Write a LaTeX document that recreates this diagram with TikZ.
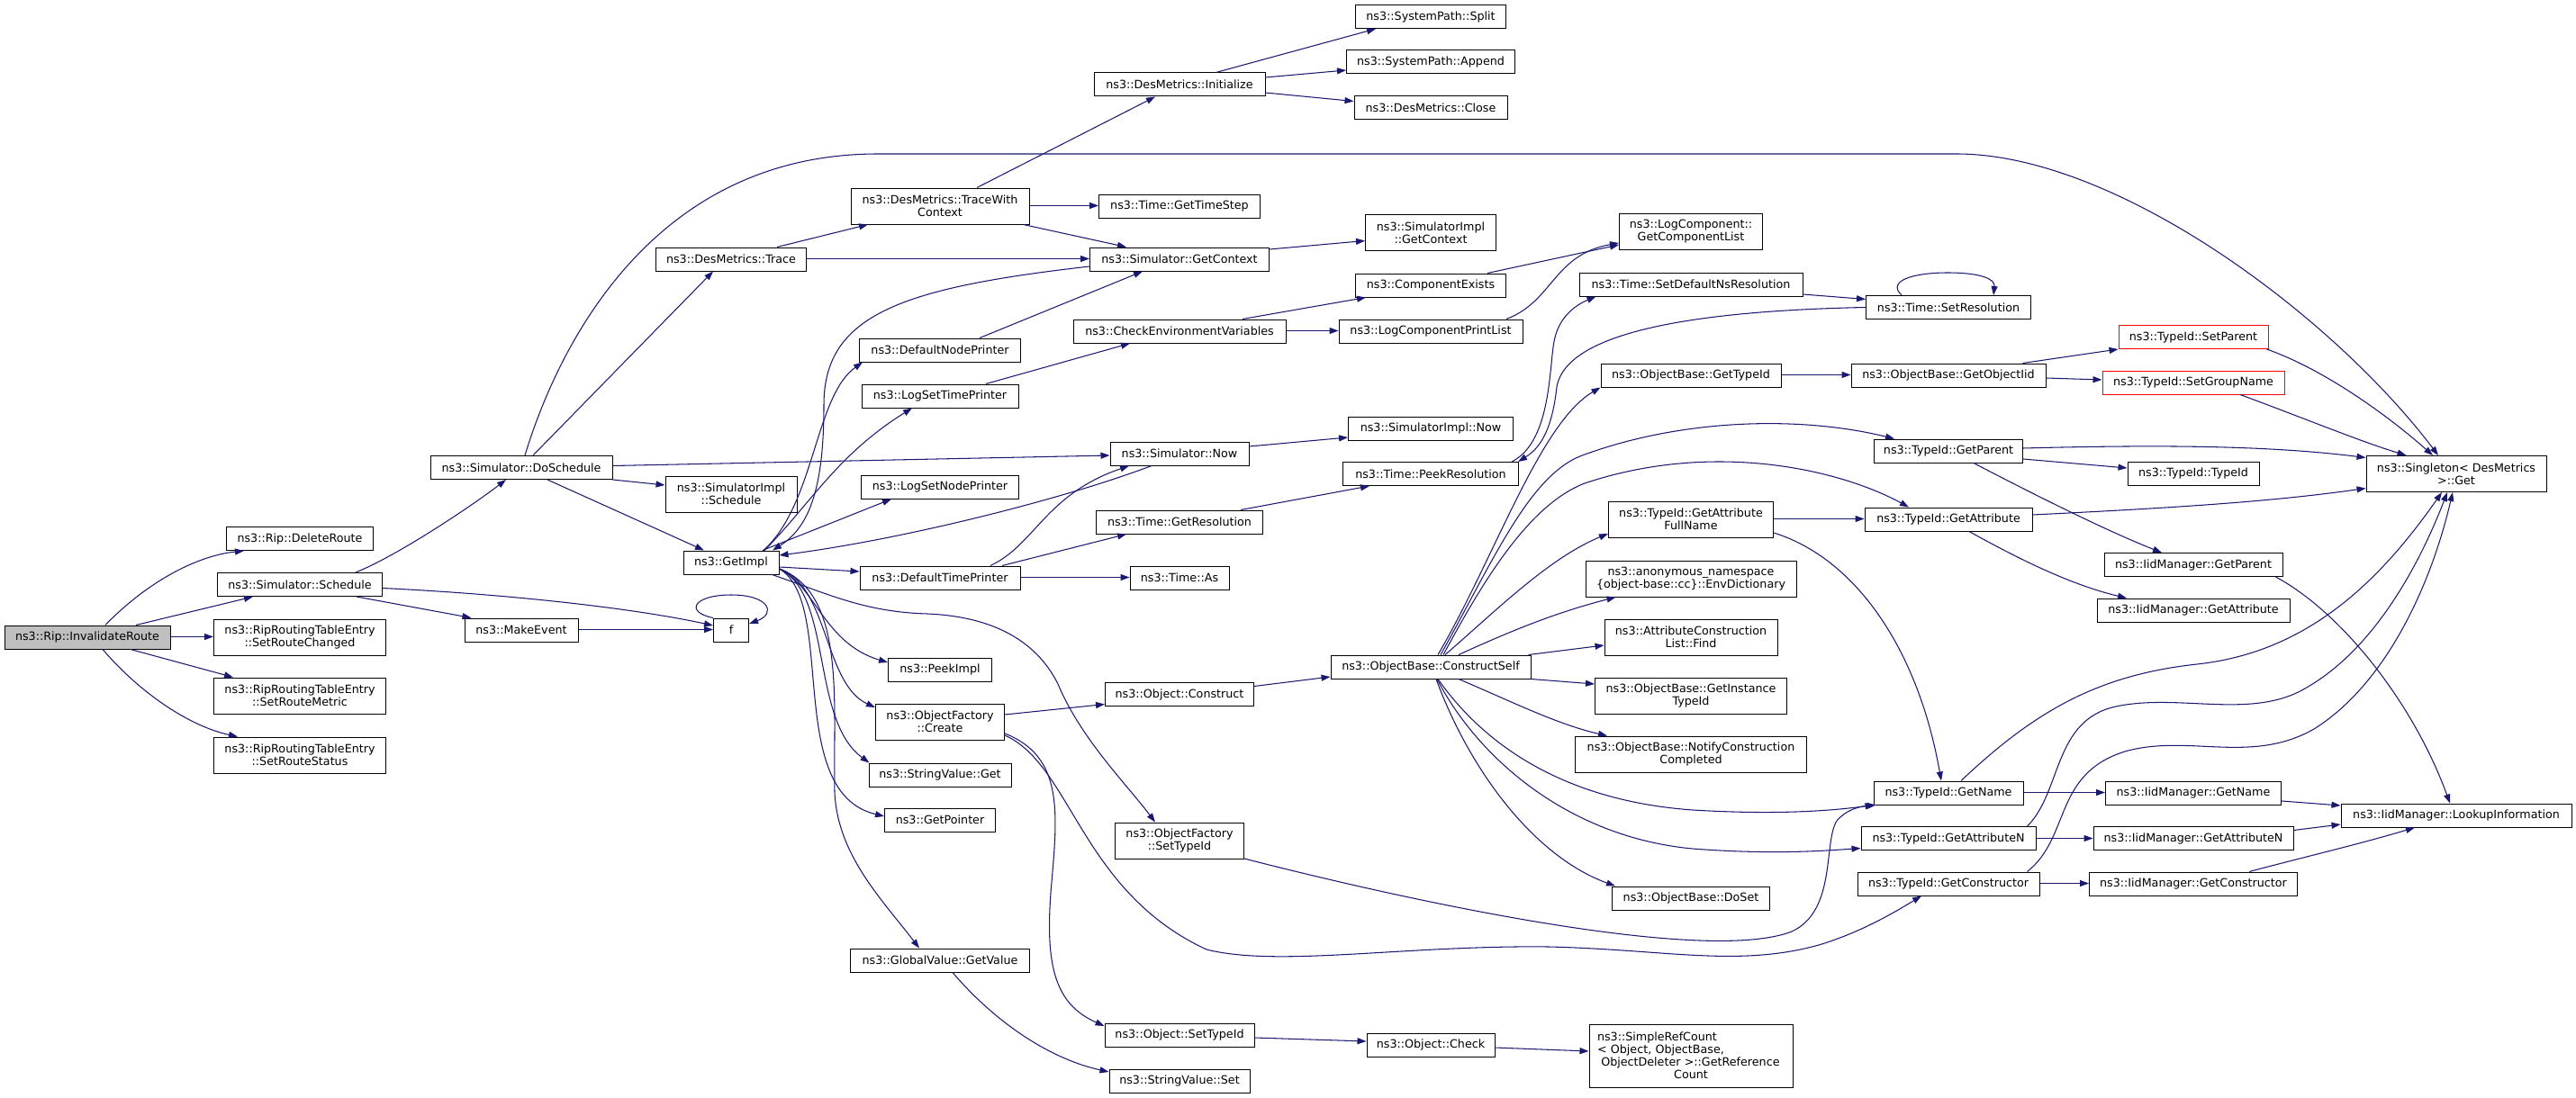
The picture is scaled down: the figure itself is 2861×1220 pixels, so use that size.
\documentclass[tikz,border=0pt]{standalone}
\usepackage{fontspec}
\setmainfont{DejaVu Sans}
\usetikzlibrary{arrows.meta}
\definecolor{edgecol}{HTML}{191970}
\definecolor{rootgray}{HTML}{BFBFBF}
\definecolor{boxred}{HTML}{FF0000}
\tikzset{
 box/.style={draw=black, line width=1pt, fill=white, inner sep=0pt, minimum height=26pt, align=center, font=\fontsize{12.7}{14}\selectfont},
 tall/.style={box, minimum height=40pt},
 rootbox/.style={box, fill=rootgray},
 redbox/.style={box, draw=boxred},
 edge/.style={draw=edgecol, line width=1.05pt, -{Triangle[length=10pt,width=7pt]}},
}
\begin{document}
\begin{tikzpicture}[x=1pt,y=-1pt]
\useasboundingbox (0,0) rectangle (2861,1220);
% ---------- nodes ----------
\node[rootbox, minimum width=184] (root) at (97,708) {ns3::Rip::InvalidateRoute};
\node[box, minimum width=163] (del) at (333,598.5) {ns3::Rip::DeleteRoute};
\node[box, minimum width=183] (sched) at (333,649.5) {ns3::Simulator::Schedule};
\node[tall, minimum width=191] (chg) at (333,708) {ns3::RipRoutingTableEntry\\::SetRouteChanged};
\node[tall, minimum width=191] (met) at (333,773) {ns3::RipRoutingTableEntry\\::SetRouteMetric};
\node[tall, minimum width=191] (sta) at (333,839) {ns3::RipRoutingTableEntry\\::SetRouteStatus};
\node[box, minimum width=202] (dosch) at (579,519.5) {ns3::Simulator::DoSchedule};
\node[box, minimum width=126] (mkev) at (579,700) {ns3::MakeEvent};
\node[box, minimum width=39] (f) at (812,700) {f};
\node[box, minimum width=167] (trace) at (812,288) {ns3::DesMetrics::Trace};
\node[tall, minimum width=146] (simsched) at (812,549) {ns3::SimulatorImpl\\::Schedule};
\node[box, minimum width=106] (getimpl) at (812,625) {ns3::GetImpl};
\node[tall, minimum width=198] (twc) at (1044,229) {ns3::DesMetrics::TraceWith\\Context};
\node[box, minimum width=179] (dnp) at (1044,389) {ns3::DefaultNodePrinter};
\node[box, minimum width=174] (lstp) at (1044,440) {ns3::LogSetTimePrinter};
\node[box, minimum width=175] (lsnp) at (1044,541) {ns3::LogSetNodePrinter};
\node[box, minimum width=178] (dtp) at (1044,642) {ns3::DefaultTimePrinter};
\node[box, minimum width=115] (peek) at (1044,744) {ns3::PeekImpl};
\node[tall, minimum width=143] (ofcreate) at (1044,802) {ns3::ObjectFactory\\::Create};
\node[box, minimum width=158] (svget) at (1044,861) {ns3::StringValue::Get};
\node[box, minimum width=123] (getptr) at (1044,911) {ns3::GetPointer};
\node[box, minimum width=199] (gvget) at (1044,1067) {ns3::GlobalValue::GetValue};
\node[box, minimum width=190] (init) at (1310,94) {ns3::DesMetrics::Initialize};
\node[box, minimum width=179] (gts) at (1310,229) {ns3::Time::GetTimeStep};
\node[box, minimum width=199] (getctx) at (1310,288) {ns3::Simulator::GetContext};
\node[box, minimum width=236] (cev) at (1310,368) {ns3::CheckEnvironmentVariables};
\node[box, minimum width=154] (now) at (1310,504) {ns3::Simulator::Now};
\node[box, minimum width=185] (getres) at (1310,580) {ns3::Time::GetResolution};
\node[box, minimum width=110] (as) at (1310,642) {ns3::Time::As};
\node[box, minimum width=165] (construct) at (1310,771.5) {ns3::Object::Construct};
\node[tall, minimum width=143] (ofsettid) at (1310,934) {ns3::ObjectFactory\\::SetTypeId};
\node[box, minimum width=166] (osettid) at (1310,1150) {ns3::Object::SetTypeId};
\node[box, minimum width=156] (svset) at (1310,1201) {ns3::StringValue::Set};
\node[box, minimum width=167] (split) at (1589,18.5) {ns3::SystemPath::Split};
\node[box, minimum width=187] (append) at (1589,69) {ns3::SystemPath::Append};
\node[box, minimum width=170] (close) at (1589,119.5) {ns3::DesMetrics::Close};
\node[tall, minimum width=145] (sictx) at (1589,258.5) {ns3::SimulatorImpl\\::GetContext};
\node[box, minimum width=167] (cex) at (1589,317) {ns3::ComponentExists};
\node[box, minimum width=204] (lcpl) at (1589,368) {ns3::LogComponentPrintList};
\node[box, minimum width=183] (sinow) at (1589,476) {ns3::SimulatorImpl::Now};
\node[box, minimum width=195] (peekres) at (1589,526.5) {ns3::Time::PeekResolution};
\node[box, minimum width=222] (cself) at (1589,741) {ns3::ObjectBase::ConstructSelf};
\node[box, minimum width=142] (check) at (1589,1161) {ns3::Object::Check};
\node[tall, minimum width=159] (gcl) at (1878,257) {ns3::LogComponent::\\GetComponentList};
\node[box, minimum width=248] (sdnr) at (1878,316) {ns3::Time::SetDefaultNsResolution};
\node[box, minimum width=200] (obgtid) at (1878,417) {ns3::ObjectBase::GetTypeId};
\node[tall, minimum width=183] (gafn) at (1878,577) {ns3::TypeId::GetAttribute\\FullName};
\node[tall, minimum width=234] (env) at (1878,643) {ns3::anonymous\_namespace\\\{object-base::cc\}::EnvDictionary};
\node[tall, minimum width=192] (find) at (1878,708) {ns3::AttributeConstruction\\List::Find};
\node[tall, minimum width=213] (git) at (1878,773) {ns3::ObjectBase::GetInstance\\TypeId};
\node[tall, minimum width=257] (ncc) at (1878,838) {ns3::ObjectBase::NotifyConstruction\\Completed};
\node[box, minimum width=175] (doset) at (1878,998) {ns3::ObjectBase::DoSet};
\node[box, minimum width=226, minimum height=70, text width=208, align=left] (src) at (1878,1173) {ns3::SimpleRefCount\\< Object, ObjectBase,\\\ ObjectDeleter >::GetReference\\\makebox[208pt][c]{Count}};
\node[box, minimum width=183] (setres) at (2164,341.5) {ns3::Time::SetResolution};
\node[box, minimum width=216] (goiid) at (2164,417) {ns3::ObjectBase::GetObjectIid};
\node[box, minimum width=165] (tgp) at (2164,501) {ns3::TypeId::GetParent};
\node[box, minimum width=186] (tga) at (2164,577) {ns3::TypeId::GetAttribute};
\node[box, minimum width=166] (tgn) at (2164,881) {ns3::TypeId::GetName};
\node[box, minimum width=194] (tgan) at (2164,931.5) {ns3::TypeId::GetAttributeN};
\node[box, minimum width=202] (tgc) at (2164,982) {ns3::TypeId::GetConstructor};
\node[redbox, minimum width=166] (setpar) at (2436,374.5) {ns3::TypeId::SetParent};
\node[redbox, minimum width=202] (sgn) at (2436,425) {ns3::TypeId::SetGroupName};
\node[box, minimum width=146] (tid) at (2436,526) {ns3::TypeId::TypeId};
\node[box, minimum width=198] (igp) at (2436,627.5) {ns3::IidManager::GetParent};
\node[box, minimum width=214] (iga) at (2436,678) {ns3::IidManager::GetAttribute};
\node[box, minimum width=195] (ign) at (2436,881) {ns3::IidManager::GetName};
\node[box, minimum width=222] (igan) at (2436,931.5) {ns3::IidManager::GetAttributeN};
\node[box, minimum width=231] (igc) at (2436,982) {ns3::IidManager::GetConstructor};
\node[tall, minimum width=200] (single) at (2728,526.5) {ns3::Singleton< DesMetrics\\>::Get};
\node[box, minimum width=256] (lookup) at (2728,906) {ns3::IidManager::LookupInformation};
% ---------- edges ----------
\draw[edge] ([xshift=20]root.north) .. controls (160,650) and (215,618) .. ([xshift=-62]del.south);
\draw[edge] ([xshift=54]root.north) -- ([xshift=-52]sched.south);
\draw[edge] ([yshift=0.5]root.east) -- ([yshift=0.5]chg.west);
\draw[edge] ([xshift=48]root.south) -- ([xshift=-74]met.north);
\draw[edge] ([xshift=17]root.south) .. controls (160,775) and (215,808) .. ([xshift=-69]sta.north);
\draw[edge] ([xshift=62]sched.north) .. controls (440,618) and (520,565) .. ([xshift=-17]dosch.south);
\draw[edge] ([xshift=63]sched.south) -- ([xshift=8]mkev.north west);
\draw[edge] ([yshift=-4]sched.east) .. controls (560,660) and (700,675) .. ([yshift=5]f.west);
\draw[edge] ([yshift=0.5]mkev.east) -- ([yshift=0.5]f.west);
\draw[edge] (f.north west) .. controls (760,680) and (770,661) .. (812,661) .. controls (855,661) and (862,682) .. ([yshift=7]f.east);
\draw[edge] ([xshift=4]dosch.north) .. controls (612,410) and (710,171) .. (975,171) -- (2173,171) .. controls (2350,171) and (2590,350) .. ([xshift=-20]single.north);
\draw[edge] ([xshift=13]dosch.north) -- ([xshift=-20]trace.south);
\draw[edge] ([yshift=2]dosch.east) -- ([yshift=-2]now.west);
\draw[edge] (dosch.south east) -- ([yshift=10]simsched.west);
\draw[edge] ([xshift=29]dosch.south) -- ([xshift=-30]getimpl.north);
\draw[edge] ([xshift=51]trace.north) -- ([xshift=-80]twc.south);
\draw[edge] ([yshift=0.5]trace.east) -- ([yshift=0.5]getctx.west);
\draw[edge] ([xshift=41]twc.north) -- ([xshift=-27]init.south);
\draw[edge] ([yshift=0.5]twc.east) -- ([yshift=0.5]gts.west);
\draw[edge] ([xshift=-7]twc.south east) -- ([xshift=-59]getctx.north);
\draw[edge] ([xshift=-55]init.north east) -- ([xshift=23]split.south west);
\draw[edge] ([yshift=8]init.east) -- ([yshift=-9]append.west);
\draw[edge] ([yshift=-9]init.east) -- ([yshift=7]close.west);
\draw[edge] ([yshift=11]getctx.east) -- ([yshift=-9]sictx.west);
\draw[edge] ([yshift=-8]getctx.west) .. controls (1000,320) and (915,350) .. (915,450) .. controls (915,540) and (900,585) .. ([xshift=46]getimpl.north);
\draw[edge] ([xshift=44]dnp.north) -- ([xshift=-41]getctx.south);
\draw[edge] ([xshift=51]lstp.north) -- ([xshift=-55]cev.south);
\draw[edge] ([xshift=70]cev.north) -- ([xshift=12]cex.south west);
\draw[edge] ([yshift=0.5]cev.east) -- ([yshift=0.5]lcpl.west);
\draw[edge] ([xshift=63]cex.north) -- ([yshift=-15]gcl.west);
\draw[edge] ([xshift=84]lcpl.north) .. controls (1725,335) and (1725,283) .. ([yshift=-13]gcl.west);
\draw[edge] ([xshift=35]getimpl.north) -- ([xshift=-54]lsnp.south);
\draw[edge] ([xshift=36]getimpl.north) .. controls (905,560) and (905,440) .. ([xshift=4]dnp.south west);
\draw[edge] ([xshift=37]getimpl.north) .. controls (900,560) and (930,505) .. ([xshift=-31]lstp.south);
\draw[edge] ([yshift=-5]getimpl.east) -- ([yshift=7]dtp.west);
\draw[edge] ([xshift=-31]now.south) .. controls (1180,555) and (1000,600) .. ([yshift=8]getimpl.east);
\draw[edge] ([xshift=56]dtp.north) .. controls (1150,605) and (1160,550) .. ([xshift=-56]now.south);
\draw[edge] ([xshift=69]dtp.north) -- ([xshift=-59]getres.south);
\draw[edge] ([yshift=0.5]dtp.east) -- ([yshift=0.5]as.west);
\draw[edge] ([xshift=-25]getres.north east) -- ([xshift=30]peekres.south west);
\draw[edge] ([yshift=8]now.east) -- ([yshift=-10]sinow.west);
\draw[edge] ([xshift=-8]peekres.north east) .. controls (1725,490) and (1720,400) .. (1727,375) .. controls (1733,350) and (1752,338) .. ([xshift=19]sdnr.south west);
\draw[edge] (setres.west) .. controls (1900,345) and (1740,365) .. (1729,430) .. controls (1724,475) and (1712,497) .. ([xshift=-1]peekres.north east);
\draw[edge] ([yshift=-11]sdnr.east) -- ([yshift=9]setres.west);
\draw[edge] ([xshift=-52]setres.north) .. controls (2095,312) and (2125,303) .. (2163,303) .. controls (2200,303) and (2216,310) .. ([xshift=50]setres.north);
\draw[edge] ([yshift=9]construct.east) -- ([yshift=-11]cself.west);
\draw[edge] ([yshift=8]ofcreate.east) -- ([yshift=-11]construct.west);
\draw[edge] ([yshift=-13]ofcreate.east) .. controls (1180,840) and (1175,900) .. (1168,980) .. controls (1160,1070) and (1170,1115) .. ([yshift=10]osettid.west);
\draw[edge] ([yshift=-15]ofcreate.east) .. controls (1190,850) and (1200,990) .. (1340,1055) .. controls (1420,1075) and (1560,1050) .. (1720,1052) .. controls (1850,1055) and (1930,1075) .. (2020,1050) .. controls (2070,1035) and (2110,1010) .. ([xshift=-30]tgc.south);
\draw[edge] ([yshift=-7]getimpl.east) .. controls (905,650) and (915,715) .. ([yshift=8]peek.west);
\draw[edge] ([yshift=-7]getimpl.east) .. controls (920,650) and (915,760) .. ([yshift=16]ofcreate.west);
\draw[edge] ([yshift=-7]getimpl.east) .. controls (925,660) and (900,800) .. ([xshift=1]svget.north west);
\draw[edge] ([yshift=-7]getimpl.east) .. controls (930,670) and (870,880) .. ([yshift=4]getptr.west);
\draw[edge] ([yshift=-7]getimpl.east) .. controls (940,660) and (925,780) .. (927,880) .. controls (930,950) and (980,1000) .. ([xshift=-23]gvget.north);
\draw[edge] ([xshift=-8]getimpl.south east) .. controls (920,660) and (960,680) .. (1030,682) .. controls (1100,685) and (1150,710) .. (1175,760) .. controls (1200,820) and (1250,870) .. ([xshift=-27]ofsettid.north);
\draw[edge] ([xshift=14]gvget.south) .. controls (1100,1130) and (1160,1175) .. ([yshift=10]svset.west);
\draw[edge] ([yshift=-3]osettid.east) -- ([yshift=4]check.west);
\draw[edge] ([yshift=-3]check.east) -- ([yshift=5]src.west);
\draw[edge] ([xshift=8]cself.north) .. controls (1660,620) and (1710,470) .. (obgtid.south west);
\draw[edge] ([xshift=11]cself.north) .. controls (1660,620) and (1700,525) .. (1760,505) .. controls (1870,465) and (2000,462) .. ([xshift=-60]tgp.north);
\draw[edge] ([xshift=14]cself.north) .. controls (1650,640) and (1700,560) .. (1760,537) .. controls (1900,490) and (2040,520) .. ([xshift=-44]tga.north);
\draw[edge] ([xshift=16]cself.north) .. controls (1660,680) and (1720,620) .. ([yshift=-16]gafn.west);
\draw[edge] ([xshift=31]cself.north) .. controls (1680,700) and (1730,680) .. ([xshift=34]env.south west);
\draw[edge] ([xshift=-3]cself.north east) -- ([yshift=-9]find.west);
\draw[edge] (cself.south east) -- ([yshift=13]git.west);
\draw[edge] ([xshift=31]cself.south) .. controls (1680,780) and (1730,805) .. ([xshift=36]ncc.north west);
\draw[edge] ([xshift=8]cself.south) .. controls (1650,830) and (1740,890) .. (1880,900) .. controls (1980,906) and (2040,900) .. ([xshift=1]tgn.south west);
\draw[edge] ([xshift=7]cself.south) .. controls (1640,840) and (1740,930) .. (1880,943) .. controls (1970,950) and (2030,945) .. ([yshift=-11]tgan.west);
\draw[edge] ([xshift=6]cself.south) .. controls (1630,850) and (1700,950) .. ([xshift=4]doset.north west);
\draw[edge] ([yshift=0.5]obgtid.east) -- ([yshift=0.5]goiid.west);
\draw[edge] ([xshift=-26]goiid.north east) -- (setpar.south west);
\draw[edge] ([yshift=-3]goiid.east) -- ([yshift=3]sgn.west);
\draw[edge] ([xshift=-2]setpar.south east) .. controls (2580,410) and (2650,460) .. ([xshift=-26]single.north);
\draw[edge] ([xshift=52]sgn.south) .. controls (2560,465) and (2620,490) .. ([xshift=45]single.north west);
\draw[edge] ([yshift=3]tgp.east) .. controls (2400,494) and (2520,495) .. ([yshift=18]single.west);
\draw[edge] ([yshift=-9]tgp.east) -- ([yshift=6]tid.west);
\draw[edge] ([xshift=28]tgp.south) .. controls (2260,550) and (2340,590) .. ([xshift=-35]igp.north);
\draw[edge] ([yshift=5]tga.east) .. controls (2400,565) and (2520,558) .. ([yshift=-16]single.west);
\draw[edge] ([xshift=23]tga.south) .. controls (2240,620) and (2300,650) .. ([xshift=-74]iga.north);
\draw[edge] ([yshift=0.5]gafn.east) -- ([yshift=0.5]tga.west);
\draw[edge] ([yshift=-15]gafn.east) .. controls (2060,620) and (2130,720) .. ([xshift=-8]tgn.north);
\draw[edge] ([yshift=-20]ofsettid.east) .. controls (1600,1010) and (1900,1070) .. (1990,1035) .. controls (2040,1012) and (2025,935) .. (2040,912) .. controls (2050,900) and (2065,896) .. ([xshift=3]tgn.south west);
\draw[edge] ([yshift=0.5]tgn.east) -- ([yshift=0.5]ign.west);
\draw[edge] ([xshift=14]tgn.north) .. controls (2260,790) and (2330,750) .. (2440,738) .. controls (2560,725) and (2640,650) .. ([xshift=-16]single.south);
\draw[edge] (tgan.east) -- (igan.west);
\draw[edge] ([xshift=-10]tgan.north east) .. controls (2290,880) and (2280,800) .. (2350,785) .. controls (2420,770) and (2500,800) .. (2560,765) .. controls (2640,720) and (2690,620) .. ([xshift=-10]single.south);
\draw[edge] ([yshift=0.5]tgc.east) -- ([yshift=0.5]igc.west);
\draw[edge] ([xshift=-14]tgc.north east) .. controls (2300,930) and (2280,860) .. (2360,835) .. controls (2430,815) and (2500,850) .. (2570,810) .. controls (2650,760) and (2700,650) .. ([xshift=-4]single.south);
\draw[edge] ([xshift=-8]igp.south east) .. controls (2600,680) and (2680,780) .. ([xshift=-7]lookup.north);
\draw[edge] ([yshift=-9]ign.east) -- ([yshift=11]lookup.west);
\draw[edge] ([yshift=9]igan.east) -- ([yshift=-10]lookup.west);
\draw[edge] ([xshift=62]igc.north) .. controls (2560,952) and (2620,938) .. ([xshift=-46]lookup.south);
\end{tikzpicture}
\end{document}
